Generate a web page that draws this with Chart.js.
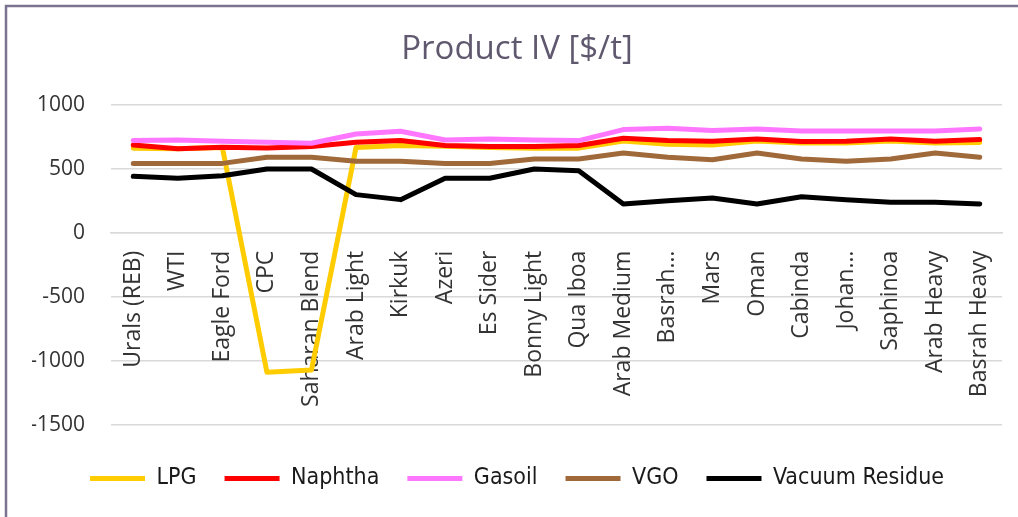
<!DOCTYPE html>
<html>
<head>
<meta charset="utf-8">
<script src="https://cdn.jsdelivr.net/npm/chart.js@4.4.1/dist/chart.umd.min.js"></script>
<style>
  html, body { margin: 0; padding: 0; background: #fff; }
  #wrap { position: relative; width: 1018px; height: 517px; }
</style>
</head>
<body>
<div id="wrap"><canvas id="ivChart" width="1018" height="517"></canvas></div>
<script>
// crude names as shown on the category axis
const crudes = ["Urals (REB)", "WTI", "Eagle Ford", "CPC", "Saharan Blend", "Arab Light", "Kirkuk", "Azeri", "Es Sider", "Bonny Light",
  "Qua Iboa", "Arab Medium", "Basrah\u2026", "Mars", "Oman", "Cabinda", "Johan\u2026", "Saphinoa", "Arab Heavy", "Basrah Heavy"];

// product IV values [$/t]
const lpg = [660, 655, 665, -1090, -1072, 665, 680, 675, 665, 660, 660, 715, 690, 685, 715, 700, 700, 715, 700, 705];
const naphtha = [685, 655, 667, 661, 672, 706, 719, 680, 672, 672, 680, 737, 719, 713, 732, 711, 713, 732, 713, 727];
const gasoil = [719, 724, 713, 706, 698, 771, 792, 724, 732, 724, 719, 805, 815, 797, 810, 794, 794, 794, 794, 810];
const vgo = [541, 541, 541, 589, 589, 557, 557, 541, 541, 576, 576, 622, 589, 570, 622, 576, 557, 576, 622, 589];
const vacuumResidue = [440, 425, 445, 497, 497, 297, 258, 425, 425, 497, 484, 224, 250, 271, 224, 281, 258, 237, 237, 224];

const yTicks = [-1500, -1000, -500, 0, 500, 1000];

function line(label, data, color, order) {
    return {
        label: label,
        data: data,
        borderColor: color,
        backgroundColor: color,
        borderWidth: 5,
        pointRadius: 0,
        tension: 0,
        borderJoinStyle: 'round',
        borderCapStyle: 'round',
        order: order
    }
}

// white background + the frame lines at top and left
const framePlugin = {
    id: 'frame',
    beforeDraw(chart) {
        const c = chart.ctx;
        c.save();
        c.fillStyle = '#ffffff';
        c.fillRect(0, 0, chart.width, chart.height);
        c.strokeStyle = '#7b7191';
        c.lineWidth = 2.5;
        c.beginPath();
        c.moveTo(6, chart.height);
        c.lineTo(6, 6);
        c.lineTo(chart.width, 6);
        c.stroke();
        c.restore();
    }
};

var ctx = document.getElementById('ivChart').getContext('2d');
var ivChart = new Chart(ctx, {
    type: 'line',
    data: {
        labels: crudes,
        datasets: [
            line("LPG", lpg, "#ffcc00", 5),
            line("Naphtha", naphtha, "#ff0000", 4),
            line("Gasoil", gasoil, "#ff77ff", 3),
            line("VGO", vgo, "#a0693a", 2),
            line("Vacuum Residue", vacuumResidue, "#000000", 1)
        ]
    },
    plugins: [framePlugin],
    options: {
        responsive: false,
        animation: false,
        layout: { padding: { top: 10, right: 16, bottom: 17, left: 32 } },
        plugins: {
            title: {
                display: true,
                text: "Product IV [$/t]",
                color: '#5f586e',
                font: { family: "'Open Sans'", size: 33, weight: 'normal' },
                padding: { top: 20, bottom: 35 }
            },
            legend: {
                position: 'bottom',
                title: { display: true, text: '', font: { size: 1 }, padding: { top: 0, bottom: 13 } },
                labels: {
                    usePointStyle: true,
                    pointStyle: 'line',
                    pointStyleWidth: 55,
                    boxHeight: 5,
                    padding: 28,
                    color: '#1a1a1a',
                    font: { family: "'DejaVu Sans Condensed', 'DejaVu Sans'", size: 23 },
                    sort: (a, b) => a.datasetIndex - b.datasetIndex
                }
            },
            tooltip: { enabled: false }
        },
        scales: {
            x: {
                position: { y: 0 },
                offset: true,
                afterFit(scale) { scale.paddingLeft = 0; scale.paddingRight = 0; },
                grid: { display: false, drawTicks: false },
                border: { display: true, color: '#d9d9d9', width: 1.5 },
                ticks: {
                    autoSkip: false,
                    minRotation: 90,
                    maxRotation: 90,
                    padding: 18,
                    color: '#333333',
                    font: { family: "'Open Sans'", size: 23 }
                }
            },
            y: {
                min: -1500,
                max: 1000,
                afterFit(scale) { scale.width = 79; },
                afterBuildTicks(scale) { scale.ticks = yTicks.map(v => ({ value: v })); },
                grid: { color: '#d9d9d9', lineWidth: 1.5, drawTicks: false },
                border: { display: false },
                ticks: {
                    padding: 26,
                    color: '#333333',
                    font: { family: "'Open Sans'", size: 21 },
                    callback: (v) => String(v)
                }
            }
        }
    }
});
</script>
</body>
</html>
